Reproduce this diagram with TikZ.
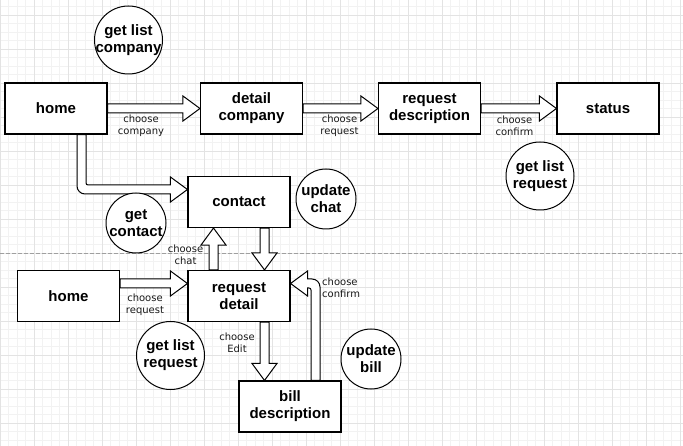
\documentclass[tikz,border=0pt]{standalone}
\usepackage{fontspec}
\setmainfont{Liberation Sans}
\newfontfamily\lblfont{DejaVu Sans}
\usetikzlibrary{calc,backgrounds}
\newcommand\flexarrow[2]{%
  \coordinate (fabase) at ($(#2)!17pt!(#1)$);
  \path[flexa] ($(#1)!4.5pt!90:(#2)$) -- ($(fabase)!4.5pt!-90:(#1)$) -- ($(fabase)!12.5pt!-90:(#1)$) -- (#2) -- ($(fabase)!12.5pt!90:(#1)$) -- ($(fabase)!4.5pt!90:(#1)$) -- ($(#1)!4.5pt!-90:(#2)$) -- cycle;}
\begin{document}
\begin{tikzpicture}[x=1pt,y=-1pt,
  box/.style={draw=black, line width=1.1pt, fill=white, minimum width=102pt, minimum height=51pt, inner sep=0pt, align=center, font=\fontsize{15}{17}\selectfont\bfseries},
  ringbig/.style={circle, draw=black, line width=1pt, fill=white, minimum size=68pt, inner sep=-12pt, align=center, font=\fontsize{15}{17}\selectfont\bfseries},
  ringsmall/.style={ringbig, minimum size=60pt},
  lbl/.style={align=center, inner sep=0pt, text=black!90, font=\lblfont\fontsize{10}{11.8}\selectfont},
  flexa/.style={draw=black, line width=1pt, fill=white, line join=miter},
  minorgrid/.style={draw=gray!10, line width=0.6pt},
  majorgrid/.style={draw=gray!22, line width=0.8pt},
]
\useasboundingbox (0,0) rectangle (683,446);
% boxes
\node[box] (home) at (56,108.5) {home};
\node[box] (detail) at (251.5,108.5) {detail\\company};
\node[box] (reqdesc) at (429.5,108.5) {request\\description};
\node[box] (status) at (608,108.5) {status};
\node[box] (contact) at (239,202) {contact};
\node[box] (home2) at (68.5,296) {home};
\node[box] (reqdetail) at (239,296) {request\\detail};
\node[box] (bill) at (290,406.5) {bill\\description};
% circles
\node[ringbig] (c1) at (128.5,40) {get list\\company};
\node[ringbig] (c2) at (540,176) {get list\\request};
\node[ringsmall] (c3) at (136,223) {get\\contact};
\node[ringsmall] (c4) at (326,199) {update\\chat};
\node[ringbig] (c5) at (170.5,355.5) {get list\\request};
\node[ringsmall] (c6) at (371,359) {update\\bill};
% labels
\node[lbl] (l1) at (141,126) {choose\\company};
\node[lbl] (l2) at (339.5,126) {choose\\request};
\node[lbl] (l3) at (514.5,126) {choose\\confirm};
\node[lbl] (l4) at (185.5,255) {choose\\chat};
\node[lbl] (l5) at (145,305) {choose\\request};
\node[lbl] (l6) at (237,342.5) {choose\\Edit};
\node[lbl, align=left, anchor=west] (l7) at (322,287.5) {choose\\confirm};
\begin{pgfonlayer}{background}
  \fill[white] (0,0) rectangle (683,446);
  \foreach \i in {0,...,80} \draw[minorgrid] (\i*8.5,0) -- (\i*8.5,446);
  \foreach \j in {0,...,53} \draw[minorgrid] (0,\j*8.5-2) -- (683,\j*8.5-2);
  \foreach \i in {0,...,20} \draw[majorgrid] (\i*34,0) -- (\i*34,446);
  \foreach \j in {0,...,13} \draw[majorgrid] (0,\j*34+15) -- (683,\j*34+15);
  \draw[draw=gray!75, line width=0.8pt, dash pattern=on 4pt off 2pt] (0,253) -- (683,253);
  \coordinate (a5s) at ($(reqdetail.north)+(-25.5,0)$);
  \coordinate (a5t) at ($(contact.south)+(-25.5,0)$);
  \coordinate (a6s) at ($(contact.south)+(25.5,0)$);
  \coordinate (a6t) at ($(reqdetail.north)+(25.5,0)$);
  \coordinate (a7s) at ($(home2.east)+(0,-12.5)$);
  \coordinate (a7t) at ($(reqdetail.west)+(0,-12.5)$);
  \coordinate (a8s) at ($(reqdetail.south)+(25.5,0)$);
  \coordinate (a8t) at ($(bill.north)+(-25.5,0)$);
  \flexarrow{home.east}{detail.west}
  \flexarrow{detail.east}{reqdesc.west}
  \flexarrow{reqdesc.east}{status.west}
  \flexarrow{a5s}{a5t}
  \flexarrow{a6s}{a6t}
  \flexarrow{a7s}{a7t}
  \flexarrow{a8s}{a8t}
  \path[flexa] let \p1=($(home.south)+(25.5,0)$), \p2=($(contact.west)+(0,-12.5)$) in
    (\x1-4.5pt,\y1) [rounded corners=8pt] -- (\x1-4.5pt,\y2-4.5pt) [sharp corners] -- (\x2-17pt,\y2-4.5pt) -- (\x2-17pt,\y2-12.5pt) -- (\x2,\y2) -- (\x2-17pt,\y2+12.5pt) -- (\x2-17pt,\y2+4.5pt) [rounded corners=2pt] -- (\x1+4.5pt,\y2+4.5pt) [sharp corners] -- (\x1+4.5pt,\y1) -- cycle;
  \path[flexa] let \p1=($(bill.north)+(25.5,0)$), \p2=($(reqdetail.east)+(0,-12.5)$) in
    (\x1+4.5pt,\y1) [rounded corners=8pt] -- (\x1+4.5pt,\y2+4.5pt) [sharp corners] -- (\x2+17pt,\y2+4.5pt) -- (\x2+17pt,\y2+12.5pt) -- (\x2,\y2) -- (\x2+17pt,\y2-12.5pt) -- (\x2+17pt,\y2-4.5pt) [rounded corners=2pt] -- (\x1-4.5pt,\y2-4.5pt) [sharp corners] -- (\x1-4.5pt,\y1) -- cycle;
\end{pgfonlayer}
\end{tikzpicture}
\end{document}
